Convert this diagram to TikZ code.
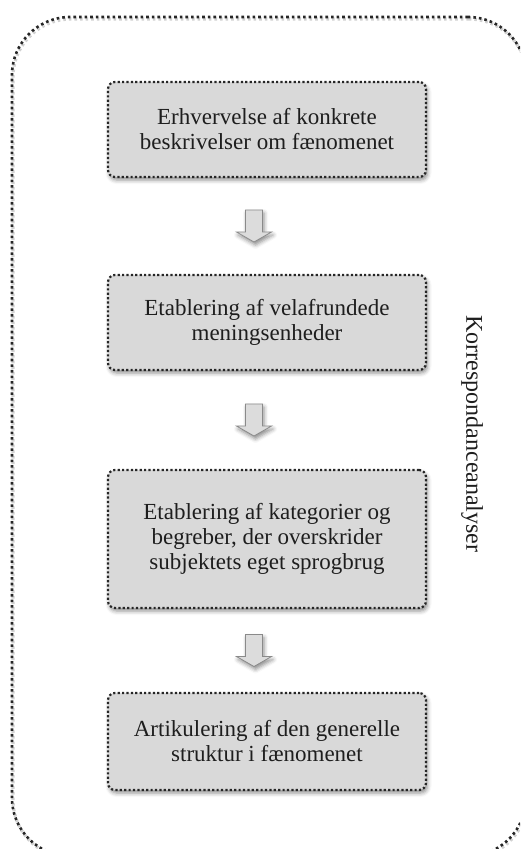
\documentclass[tikz,border=0pt]{standalone}
\usepackage{fontspec}
\setmainfont{Liberation Serif}
\usetikzlibrary{calc,shadows.blur}

\definecolor{boxfill}{HTML}{D9D9D9}
\definecolor{textgray}{HTML}{1E1E1E}
\definecolor{arrowfill}{HTML}{DCDCDC}
\definecolor{arrowline}{HTML}{8A8A8A}

\tikzset{
  softshadow/.style={blur shadow={shadow xshift=1.5pt, shadow yshift=-3pt,
      shadow blur radius=4pt, shadow opacity=45}},
  dotline/.style={line width=2.2pt, dash pattern=on 2.2pt off 2.2pt, draw=black!85},
  framebox/.style={draw=black!85, line width=2.6pt, dash pattern=on 2.6pt off 3pt,
      rounded corners=58pt, minimum width=514pt, minimum height=839pt, inner sep=0pt},
  stepbox/.style={dotline, rounded corners=7pt, fill=boxfill, softshadow,
      minimum width=318pt, inner sep=0pt, align=center,
      font=\fontsize{23}{25}\selectfont, text=textgray},
  sidelabel/.style={rotate=-90, font=\fontsize{24}{26}\selectfont, text=textgray},
  blockarrow/.pic={
    \draw[line width=0.8pt, draw=arrowline, fill=arrowfill, line join=miter,
          softshadow]
      (-8.5,0) -- (8.5,0) -- (8.5,22) -- (17.5,22) -- (0,32)
      -- (-17.5,22) -- (-8.5,22) -- cycle;
  }
}

\begin{document}
\begin{tikzpicture}[x=1pt, y=-1pt]
  \clip (0,0) rectangle (520,849);

  % outer frame with a faint offset copy as its shadow
  \node[framebox, draw=black, opacity=0.18, line width=3.2pt] (frameshadow) at (270,438.5) {};
  \node[framebox] (frame) at (269,436.5) {};

  % process steps
  \node[stepbox, minimum height=95pt] (s1) at (267,129.5)
    {Erhvervelse af konkrete\\beskrivelser om fænomenet};
  \node[stepbox, minimum height=95pt] (s2) at (267,322.5)
    {Etablering af velafrundede\\meningsenheder};
  \node[stepbox, minimum height=138pt] (s3) at (267,539)
    {Etablering af kategorier og\\begreber, der overskrider\\subjektets eget sprogbrug};
  \node[stepbox, minimum height=97pt] (s4) at (267,741.5)
    {Artikulering af den generelle\\struktur i fænomenet};

  % block arrows between the steps
  \pic (a1) at ($(s1.south)!0.5!(s2.north)+(-13,-16)$) {blockarrow};
  \pic (a2) at ($(s2.south)!0.5!(s3.north)+(-13,-16)$) {blockarrow};
  \pic (a3) at ($(s3.south)!0.5!(s4.north)+(-13,-16)$) {blockarrow};

  % side label
  \node[sidelabel] (lbl) at (472,434) {Korrespondanceanalyser};
\end{tikzpicture}
\end{document}
